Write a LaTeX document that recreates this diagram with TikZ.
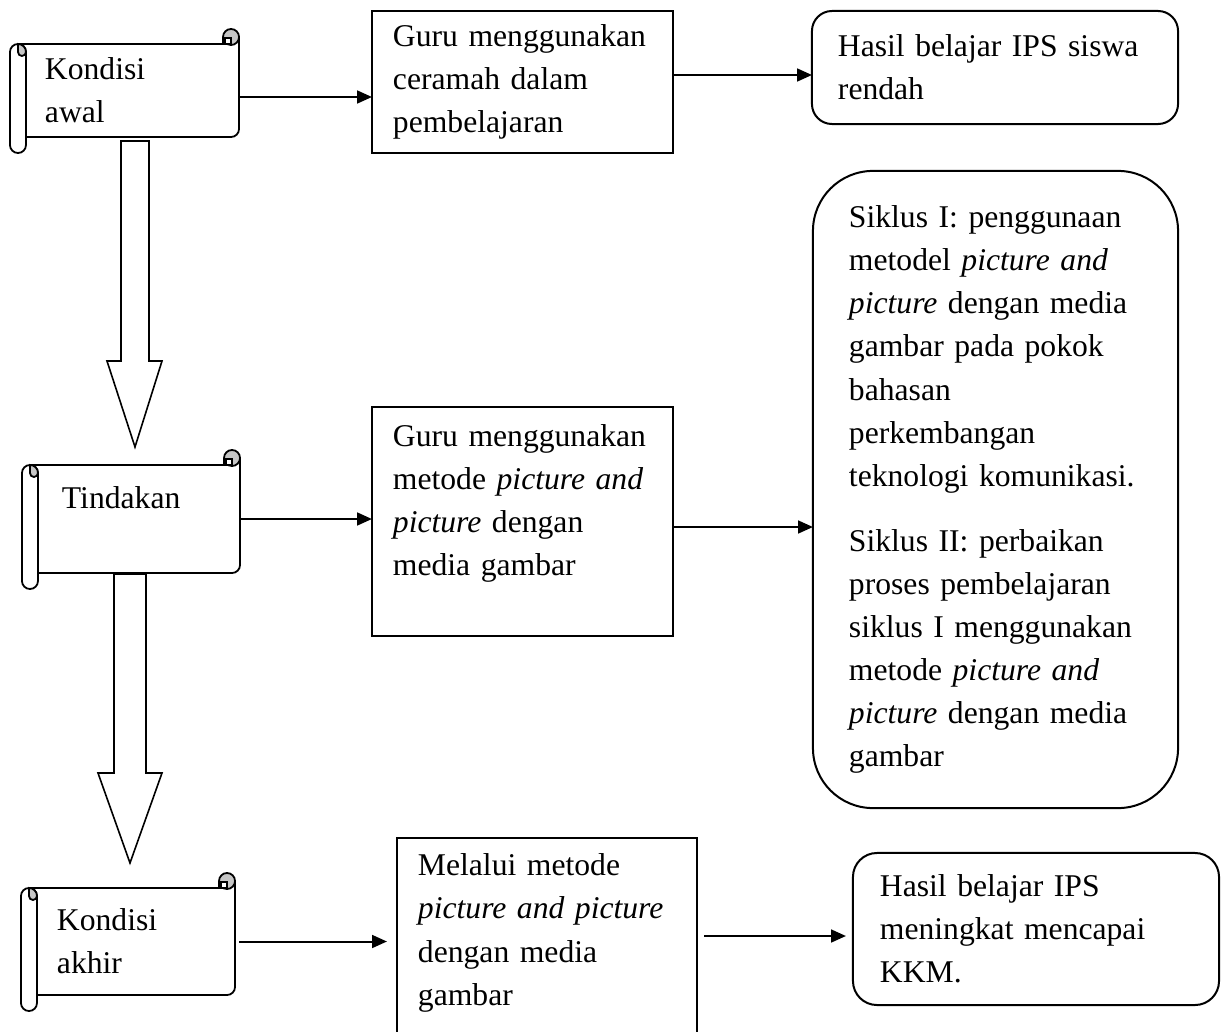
\documentclass[tikz,border=0pt]{standalone}
\usepackage{fontspec}
\setmainfont{Liberation Serif}
\usepackage{tikz}
\usetikzlibrary{arrows.meta}
\usetikzlibrary{positioning}
\usetikzlibrary{calc}
\tikzstyle{flow} = [draw, line width=0.05cm, -{Triangle[length=0.37cm, width=0.32cm]}]

\begin{document}
\begin{tikzpicture}[x=0.025cm, y=-0.025cm,
		font=\fontsize{22.5}{30.6}\selectfont,
		kotak/.style = {rectangle, draw, line width=0.05cm, align=left,
			inner xsep=0.525cm, outer sep=0pt},
		bulat/.style = {kotak, rounded corners=0.5cm},
		gulung/.style = {rectangle, align=left, outer sep=0pt},
		blok/.style = {draw, line width=0.04cm, line join=miter},
		tepi/.style = {draw, line width=0.045cm, fill=white},
		ikal/.style = {draw, line width=0.045cm, fill=gray!45}]
	
	\useasboundingbox (0,0) rectangle (1230,1032);
	\clip (0,0) rectangle (1230,1032);
	
	% Scroll nodes
	\node[gulung, minimum width=5.325cm, minimum height=2.325cm, text width=4.375cm, inner xsep=0.475cm] (awal) at (132.5,90.5) {Kondisi\\ awal};
	\node[gulung, minimum width=5.05cm, minimum height=2.7cm, text width=3.85cm, inner xsep=0.6cm] (tindakan) at (139,519) {Tindakan\\ \mbox{}};
	\node[gulung, minimum width=4.95cm, minimum height=2.675cm, text width=3.95cm, inner xsep=0.5cm] (akhir) at (136,941.5) {Kondisi\\ akhir};
	
	% Scroll outlines
	\foreach \g in {awal,tindakan,akhir} {
		\draw[line width=0.045cm] ([shift={(-8,0)}]\g.north west) -- ([shift={(-16,0)}]\g.north east) -- ([shift={(-16,-7)}]\g.north east);
		\draw[line width=0.045cm] ([shift={(0,-7)}]\g.north east) -- ([shift={(0,-8)}]\g.south east) arc(0:-90:0.2cm) -- (\g.south west);
		\draw[ikal] ([shift={(-8,-7)}]\g.north east) circle(0.2cm);
		\draw[tepi] ([shift={(-14,-6)}]\g.north east) rectangle ([shift={(-8,0)}]\g.north east);
		\draw[tepi] ([shift={(-16,8)}]\g.north west) arc(180:0:0.2cm) -- ([shift={(0,8)}]\g.south west) arc(0:-180:0.2cm) -- cycle;
		\draw[ikal] ([shift={(-8,0)}]\g.north west) arc(90:0:0.2cm) arc(0:-180:0.1cm) -- cycle;
	}
	
	% Block arrows
	\draw[blok] (121,141) -- (149,141) -- (149,361) -- (162,361) -- (135,447) -- (107,361) -- (121,361) -- cycle;
	\draw[blok] (114,574) -- (146,574) -- (146,773) -- (162,773) -- (130,863) -- (98,773) -- (114,773) -- cycle;
	
	% Boxes
	\node[kotak, minimum width=7.525cm, minimum height=3.55cm, text width=6.475cm] (ceramah) at (522.5,82) {Guru menggunakan\\ ceramah dalam\\ pembelajaran};
	\node[bulat, minimum width=9.15cm, minimum height=2.825cm, text width=7.85cm, inner xsep=0.65cm] (hasilawal) at (995,67.5) {Hasil belajar IPS siswa\\ rendah};
	\node[kotak, minimum width=7.525cm, minimum height=5.725cm, text width=6.475cm] (metode) at (522.5,521.5) {Guru menggunakan\\ metode \emph{picture and}\\ \emph{picture} dengan\\ media gambar\\ \mbox{}};
	\node[bulat, rounded corners=1.5cm, minimum width=9.125cm, minimum height=15.925cm, text width=7.325cm, inner xsep=0.9cm] (siklus) at (995.5,489.5) {Siklus I: penggunaan\\ metodel \emph{picture and}\\ \emph{picture} dengan media\\ gambar pada pokok\\ bahasan\\ perkembangan\\ teknologi komunikasi.\\[0.55cm] Siklus II: perbaikan\\ proses pembelajaran\\ siklus I menggunakan\\ metode \emph{picture and}\\ \emph{picture} dengan media\\ gambar};
	\node[kotak, anchor=north, minimum width=7.5cm, text width=6.45cm, inner ysep=0.4cm] (melalui) at (547,838) {Melalui metode\\ \emph{picture and picture}\\ dengan media\\ gambar\\[3cm] \mbox{}};
	\node[bulat, rounded corners=0.6cm, minimum width=9.15cm, minimum height=3.8cm, text width=7.8cm, inner xsep=0.675cm] (hasilakhir) at (1036,929) {Hasil belajar IPS\\ meningkat mencapai\\ KKM.};
	
	% Arrows
	\draw[flow] ($(awal.east)+(0,6.5)$) -- ($(awal.east -| ceramah.west)+(0,6.5)$);
	\draw[flow] ($(ceramah.east)+(0,-7)$) -- ($(ceramah.east -| hasilawal.west)+(0,-7)$);
	\draw[flow] (tindakan.east) -- (tindakan.east -| metode.west);
	\draw[flow] ($(metode.east)+(0,5.5)$) -- ($(metode.east -| siklus.west)+(0,5.5)$);
	\draw[flow, shorten <=0.1cm, shorten >=0.25cm] (akhir.east) -- (akhir.east -| melalui.west);
	\draw[flow, shorten <=0.175cm, shorten >=0.175cm] ($(hasilakhir.west -| melalui.east)+(0,7)$) -- ($(hasilakhir.west)+(0,7)$);
	
\end{tikzpicture}
\end{document}
